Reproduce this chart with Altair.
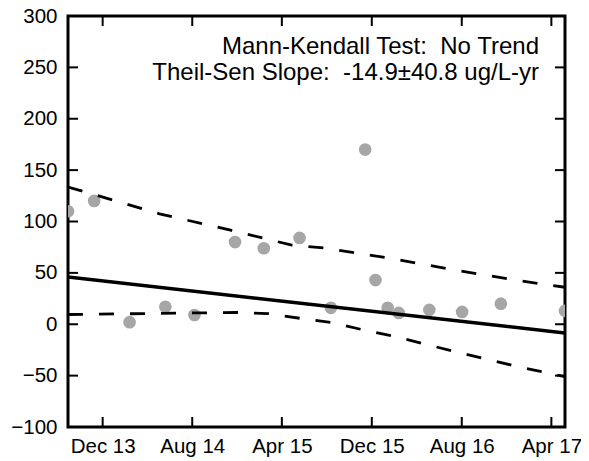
import altair as alt
import pandas as pd

# ---- data ----
pt_dates = ["2013-08-29", "2013-11-08", "2014-02-12", "2014-05-20", "2014-08-07",
            "2014-11-25", "2015-02-11", "2015-05-19", "2015-08-12", "2015-11-13",
            "2015-12-11", "2016-01-13", "2016-02-12", "2016-05-05", "2016-08-02",
            "2016-11-15", "2017-05-08"]
pt_values = [110, 120, 2, 17, 9, 80, 74, 84, 16, 170, 43, 16, 11, 14, 12, 20, 13]

trend_dates = ["2013-08-29", "2017-05-08"]
trend_values = [46, -8.5]

upper_dates = ["2013-08-29", "2014-05-04", "2014-11-13", "2015-04-28", "2015-07-24",
               "2016-01-14", "2016-07-03", "2016-12-21", "2017-05-08"]
upper_values = [133.6, 107.5, 91.5, 77, 74.3, 64.5, 53.5, 43.1, 36]

lower_dates = ["2013-08-29", "2014-11-27", "2015-02-22", "2015-05-20", "2015-08-12",
               "2015-11-07", "2016-01-28", "2016-07-17", "2017-01-04", "2017-05-08"]
lower_values = [9.5, 11.5, 10.4, 5.8, 1.7, -5.4, -11.5, -27, -41.6, -51]

ytick_values = [-100, -50, 0, 50, 100, 150, 200, 250, 300]
xtick_dates = ["2013-12-01", "2014-08-01", "2015-04-01", "2015-12-01", "2016-08-01", "2017-04-01"]
domain_dates = ["2013-08-29", "2017-05-08"]

annot_lines = ["Mann-Kendall Test:\u00a0\u00a0No Trend",
               "Theil-Sen Slope:\u00a0\u00a0-14.9\u00b140.8 ug/L-yr"]

W, H = 497, 411
FONT = "Liberation Sans"


def ts(s):
    return s + "T00:00:00"


def dt(s):
    y, m, d = (int(v) for v in s.split("-"))
    return alt.DateTime(year=y, month=m, date=d)


x_scale = alt.Scale(domain=[dt(d) for d in domain_dates], nice=False)
y_scale = alt.Scale(domain=[-100, 300], nice=False, zero=False)

x_axis = alt.Axis(values=[dt(d) for d in xtick_dates], format="%b %y", labelPadding=9,
                  labelFlush=False, ticks=False, domain=False, grid=False,
                  labelFont=FONT, labelFontSize=20.5, labelColor="black")
y_axis = alt.Axis(values=ytick_values, labelPadding=11, labelFlush=False,
                  ticks=False, domain=False, grid=False,
                  labelFont=FONT, labelFontSize=20.5, labelColor="black")

pts_df = pd.DataFrame({"date": [ts(d) for d in pt_dates], "value": pt_values})
trend_df = pd.DataFrame({"date": [ts(d) for d in trend_dates], "value": trend_values})
band_df = pd.concat([
    pd.DataFrame({"date": [ts(d) for d in upper_dates], "value": upper_values, "bound": "upper"}),
    pd.DataFrame({"date": [ts(d) for d in lower_dates], "value": lower_values, "bound": "lower"}),
])
ytick_df = pd.DataFrame({"value": ytick_values})
xtick_df = pd.DataFrame({"date": [ts(d) for d in xtick_dates]})


def X():
    return alt.X("date:T", scale=x_scale, axis=x_axis, title=None)


def Y():
    return alt.Y("value:Q", scale=y_scale, axis=y_axis, title=None)


points = alt.Chart(pts_df).mark_circle(size=160, color="#a6a6a6", opacity=1, clip=True).encode(
    x=X(), y=Y())

trend = alt.Chart(trend_df).mark_line(color="black", strokeWidth=3.5, clip=True).encode(
    x=X(), y=Y())

bands = alt.Chart(band_df).mark_line(color="black", strokeWidth=2.8, strokeDash=[15, 16],
                                     clip=True).encode(x=X(), y=Y(), detail="bound:N")

ytick_left = alt.Chart(ytick_df).mark_rule(color="black", strokeWidth=2).encode(
    y=Y(), x=alt.value(0), x2=alt.value(10))
ytick_right = alt.Chart(ytick_df).mark_rule(color="black", strokeWidth=2).encode(
    y=Y(), x=alt.value(W - 10), x2=alt.value(W))
xtick_bottom = alt.Chart(xtick_df).mark_rule(color="black", strokeWidth=2).encode(
    x=X(), y=alt.value(H - 10), y2=alt.value(H))
xtick_top = alt.Chart(xtick_df).mark_rule(color="black", strokeWidth=2).encode(
    x=X(), y=alt.value(0), y2=alt.value(10))

txt1 = alt.Chart(pd.DataFrame({"t": [annot_lines[0]]})).mark_text(
    align="right", baseline="alphabetic", fontSize=24, font=FONT, color="black").encode(
    x=alt.value(471), y=alt.value(38), text="t:N")
txt2 = alt.Chart(pd.DataFrame({"t": [annot_lines[1]]})).mark_text(
    align="right", baseline="alphabetic", fontSize=24, font=FONT, color="black").encode(
    x=alt.value(471), y=alt.value(64), text="t:N")

chart = alt.layer(
    points, bands, trend, ytick_left, ytick_right, xtick_bottom, xtick_top, txt1, txt2
).properties(
    width=W, height=H,
    background="white",
    autosize=alt.AutoSizeParams(type="none"),
    padding={"left": 60, "top": 8, "right": 16, "bottom": 32},
).configure_view(
    stroke="black", strokeWidth=3
)

chart.save("out.html", embed_options={"renderer": "svg", "actions": False})
